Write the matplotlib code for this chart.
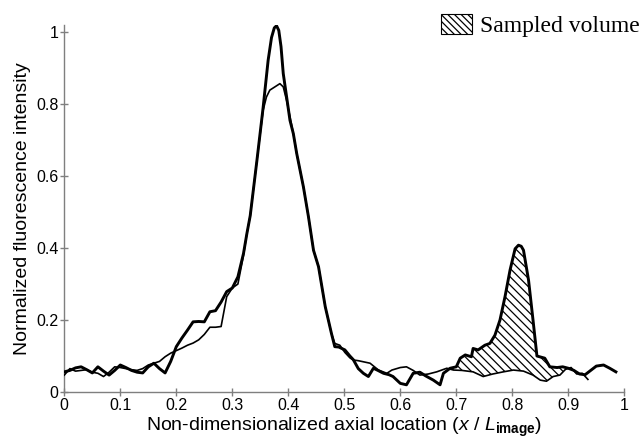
import numpy as np
import matplotlib
matplotlib.use("Agg")
import matplotlib.pyplot as plt
from matplotlib.patches import Patch

plt.rcParams['font.family'] = ['Liberation Sans', 'DejaVu Sans']
plt.rcParams['mathtext.fontset'] = 'custom'
plt.rcParams['mathtext.rm'] = 'Liberation Sans'
plt.rcParams['mathtext.it'] = 'Liberation Sans:italic'
plt.rcParams['mathtext.bf'] = 'Liberation Sans:bold'
plt.rcParams['hatch.linewidth'] = 0.9

# ---- data ----
x_thick = [0.000, 0.010, 0.020, 0.030, 0.040, 0.050, 0.060, 0.070, 0.080, 0.090,
           0.100, 0.110, 0.120, 0.130, 0.140, 0.150, 0.160, 0.170, 0.180, 0.190,
           0.200, 0.210, 0.220, 0.230, 0.240, 0.250, 0.260, 0.270, 0.280, 0.290,
           0.300, 0.310, 0.320, 0.326, 0.332, 0.344, 0.355, 0.364, 0.370, 0.375,
           0.379, 0.383, 0.387, 0.391, 0.397, 0.403, 0.409, 0.415, 0.427, 0.436,
           0.445, 0.454, 0.466, 0.477, 0.483, 0.490, 0.501, 0.510, 0.516, 0.525,
           0.534, 0.543, 0.552, 0.560, 0.570, 0.580, 0.587, 0.600, 0.611, 0.623,
           0.635, 0.645, 0.659, 0.671, 0.677, 0.689, 0.700, 0.707, 0.716, 0.727,
           0.730, 0.739, 0.751, 0.760, 0.769, 0.778, 0.787, 0.796, 0.805, 0.811,
           0.816, 0.820, 0.829, 0.837, 0.844, 0.858, 0.867, 0.880, 0.890, 0.900,
           0.910, 0.920, 0.930, 0.940, 0.950, 0.963, 0.974, 0.985]
y_thick = [0.056, 0.060, 0.067, 0.070, 0.062, 0.053, 0.070, 0.058, 0.047, 0.060,
           0.075, 0.068, 0.060, 0.055, 0.053, 0.070, 0.080, 0.065, 0.053, 0.085,
           0.126, 0.150, 0.172, 0.195, 0.196, 0.195, 0.223, 0.226, 0.250, 0.279,
           0.289, 0.320, 0.385, 0.440, 0.490, 0.644, 0.790, 0.922, 0.985, 1.012,
           1.018, 1.005, 0.960, 0.885, 0.820, 0.755, 0.718, 0.663, 0.570, 0.487,
           0.394, 0.348, 0.237, 0.163, 0.126, 0.125, 0.117, 0.100, 0.090, 0.065,
           0.052, 0.043, 0.066, 0.060, 0.052, 0.048, 0.043, 0.024, 0.020, 0.052,
           0.055, 0.045, 0.033, 0.020, 0.052, 0.066, 0.070, 0.094, 0.103, 0.098,
           0.121, 0.117, 0.130, 0.135, 0.158, 0.200, 0.265, 0.339, 0.398, 0.408,
           0.405, 0.394, 0.311, 0.200, 0.100, 0.094, 0.070, 0.068, 0.070, 0.066,
           0.060, 0.050, 0.048, 0.060, 0.072, 0.075, 0.066, 0.056]

x_thin = [0.000, 0.010, 0.020, 0.030, 0.040, 0.050, 0.060, 0.070, 0.080, 0.090,
          0.100, 0.110, 0.120, 0.130, 0.140, 0.150, 0.160, 0.170, 0.180, 0.190,
          0.200, 0.210, 0.220, 0.230, 0.240, 0.250, 0.260, 0.270, 0.280, 0.290,
          0.300, 0.310, 0.320, 0.326, 0.332, 0.344, 0.355, 0.361, 0.367, 0.376,
          0.385, 0.391, 0.397, 0.403, 0.409, 0.415, 0.427, 0.436, 0.445, 0.454,
          0.466, 0.477, 0.483, 0.492, 0.501, 0.510, 0.516, 0.525, 0.534, 0.546,
          0.561, 0.576, 0.585, 0.600, 0.611, 0.623, 0.635, 0.650, 0.665, 0.683,
          0.695, 0.710, 0.730, 0.748, 0.765, 0.784, 0.802, 0.820, 0.837, 0.850,
          0.861, 0.873, 0.885, 0.895, 0.905, 0.915, 0.925, 0.935]
y_thin = [0.047, 0.065, 0.058, 0.060, 0.062, 0.055, 0.052, 0.043, 0.055, 0.070,
          0.068, 0.065, 0.062, 0.060, 0.065, 0.075, 0.080, 0.085, 0.098, 0.108,
          0.115, 0.122, 0.130, 0.136, 0.145, 0.160, 0.180, 0.180, 0.182, 0.265,
          0.289, 0.300, 0.380, 0.440, 0.490, 0.644, 0.783, 0.820, 0.839, 0.848,
          0.857, 0.848, 0.810, 0.765, 0.718, 0.663, 0.570, 0.487, 0.394, 0.348,
          0.237, 0.163, 0.135, 0.130, 0.110, 0.095, 0.089, 0.087, 0.084, 0.080,
          0.061, 0.052, 0.061, 0.068, 0.070, 0.060, 0.047, 0.050, 0.056, 0.066,
          0.061, 0.060, 0.056, 0.043, 0.050, 0.056, 0.061, 0.058, 0.047, 0.033,
          0.030, 0.043, 0.047, 0.063, 0.068, 0.050, 0.052, 0.035]

sample_range = [0.689, 0.893]
x_ticks = [0, 0.1, 0.2, 0.3, 0.4, 0.5, 0.6, 0.7, 0.8, 0.9, 1]
x_ticklabels = ["0", "0.1", "0.2", "0.3", "0.4", "0.5", "0.6", "0.7", "0.8", "0.9", "1"]
y_ticks = [0, 0.2, 0.4, 0.6, 0.8, 1]
y_ticklabels = ["0", "0.2", "0.4", "0.6", "0.8", "1"]

fig = plt.figure(figsize=(6.41, 4.41), dpi=100)
ax = fig.add_axes([64.3 / 641, 49 / 441, 560 / 641, 367 / 441])

xt = np.array(x_thick); yt = np.array(y_thick)
xn = np.array(x_thin); yn = np.array(y_thin)

# hatched sampled volume between curves
xs = np.union1d(xt, xn)
xs = xs[(xs >= sample_range[0]) & (xs <= sample_range[1])]
xs = np.union1d(xs, sample_range)
top = np.interp(xs, xt, yt)
bot = np.interp(xs, xn, yn)
ax.fill_between(xs, bot, top, where=top >= bot, interpolate=True,
                facecolor='white', edgecolor='black', hatch='\\\\\\\\', linewidth=0, zorder=1)

ax.plot(xn, yn, color='black', lw=1.2, zorder=3)
ax.plot(xt, yt, color='black', lw=2.1, zorder=4, solid_joinstyle='round')

ax.set_xlim(0, 1)
ax.set_ylim(0, 1.02)
for s in ['top', 'right']:
    ax.spines[s].set_visible(False)
for s in ['left', 'bottom']:
    ax.spines[s].set_color('#7f7f7f')
    ax.spines[s].set_linewidth(1.0)
ax.set_xticks(x_ticks)
ax.set_xticklabels(x_ticklabels)
ax.set_yticks(y_ticks)
ax.set_yticklabels(y_ticklabels)
ax.tick_params(direction='inout', length=6, width=1.0, color='#7f7f7f',
               labelsize=11.5, labelcolor='black', pad=1)

ax.set_xlabel(r"Non-dimensionalized axial location ($x$ / $L_{\mathbf{image}}$)",
              fontsize=14, labelpad=2)
ax.set_ylabel("Normalized fluorescence intensity", fontsize=14, labelpad=4)

handle = Patch(facecolor='white', edgecolor='black', hatch='\\\\\\\\\\', linewidth=0.8)
fig.legend([handle], ["Sampled volume"], loc='upper left',
           bbox_to_anchor=(441 / 641, 1 - 14 / 441), frameon=False,
           prop={'family': 'Liberation Serif', 'size': 17},
           handlelength=1.3, handleheight=0.9, handletextpad=0.35,
           borderpad=0, borderaxespad=0)

fig.savefig("out.png", dpi=100)
